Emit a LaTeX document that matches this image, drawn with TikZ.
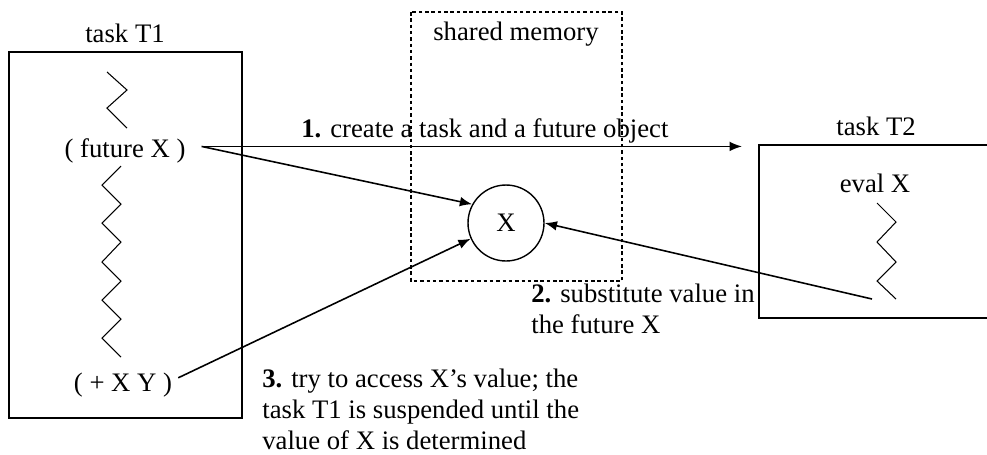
\documentclass[tikz,border=0pt]{standalone}
\usepackage{fontspec}
\setmainfont{Liberation Serif}
\usetikzlibrary{arrows.meta}

\tikzstyle{pixfig}=[x=0.02cm,y=-0.02cm]
\tikzstyle{txt}=[font=\fontsize{15.2}{17.6}\selectfont]
\tikzstyle{taskbox}=[line width=1.1pt]
\tikzstyle{thread}=[line width=0.6pt]
\tikzstyle{memline}=[line width=1pt,dash pattern=on 2pt off 1.6pt]
\tikzstyle{msg}=[line width=0.9pt,-{Latex[length=7pt,width=5.5pt]}]

\begin{document}
\begin{tikzpicture}[style=pixfig]
\useasboundingbox (0,0) rectangle (987,454);

% task T1
\draw[taskbox] (9,52) rectangle (242,418);
\node[txt,anchor=base] (t1) at (125,42) {task T1};
\draw[thread] (107,72) -- (127,90) -- (107,108) -- (127,128);
\node[txt,anchor=base,inner xsep=9pt] (fut) at (125,157) {( future X )};
\draw[thread] (121,166) -- (102,185) -- (121,204) -- (102,223) -- (121,242) -- (102,262)
  -- (121,281) -- (102,300) -- (121,319) -- (102,338) -- (121,357);
\node[txt,anchor=base] (plus) at (123,391) {( + X Y )};

% shared memory
\draw[memline] (411,12) rectangle (622,281);
\node[txt,anchor=base] (shm) at (516,40) {shared memory};
\node[txt,draw,circle,line width=0.8pt,minimum size=1.52cm] (xobj) at (506,223) {X};

% task T2
\draw[taskbox] (987,145) -- (759,145) -- (759,318) -- (987,318);
\node[txt,anchor=base] (t2) at (876,135) {task T2};
\node[txt,anchor=base] (evalx) at (875,192) {eval X};
\draw[thread] (877,203) -- (896,222) -- (877,242) -- (896,262) -- (877,281) -- (896,299);
\coordinate (z2) at (872,299);

% messages
\coordinate (a1) at (742,146);
\draw[msg] (fut.3) -- (fut.3 -| a1);
\draw[msg] (fut.3) -- (xobj.151);
\draw[msg] (z2) -- (xobj.east);
\draw[msg] (plus.7) -- (xobj.204);

% base of a multi-line node is its last line
\node[txt,anchor=base west,inner sep=0pt] (lab1) at (301,137) {\textbf{1.} create a task and a future object};
\node[txt,anchor=base west,inner sep=0pt,align=left] (lab2) at (531,333) {\textbf{2.} substitute value in\\the future X};
\node[txt,anchor=base west,inner sep=0pt,align=left] (lab3) at (262,449) {\textbf{3.} try to access X's value; the\\task T1 is suspended until the\\value of X is determined};
\end{tikzpicture}
\end{document}
